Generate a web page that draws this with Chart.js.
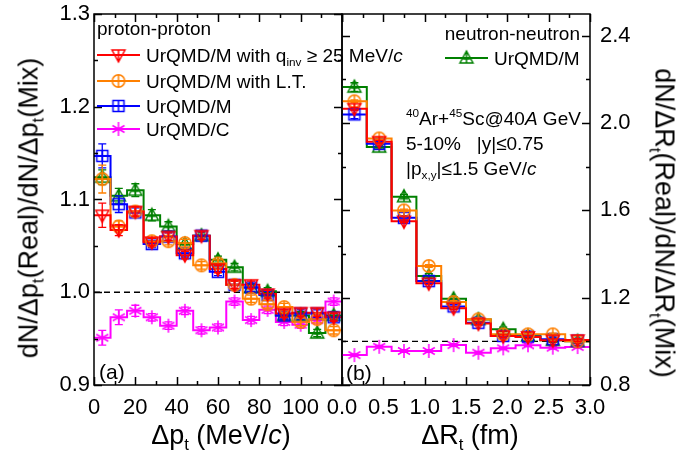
<!DOCTYPE html>
<html>
<head>
<meta charset="utf-8">
<script src="https://cdn.jsdelivr.net/npm/chart.js@4.4.1/dist/chart.umd.min.js"></script>
<style>
body { margin: 0; background: #fff; }
#wrap { position: relative; width: 697px; height: 455px; overflow: hidden; font-family: "Liberation Sans", Arial, sans-serif; color: #000; }
canvas { position: absolute; top: 0; }
.t { position: absolute; white-space: nowrap; line-height: 1; transform: translateY(-50%); }
.t sub, .t sup { font-size: 62%; line-height: 0; }
.leg { font-size: 19px; }
.ttl { font-size: 27px; }
</style>
</head>
<body>
<div id="wrap">
  <canvas id="ca" width="344" height="455" style="left:0"></canvas>
  <canvas id="cb" width="397" height="455" style="left:300px"></canvas>

  <div class="t leg" style="left:97px;top:28px">proton-proton</div>
  <div class="t leg" style="left:146px;top:55px">UrQMD/M with q<sub>inv</sub> &ge; 25 MeV/<i>c</i></div>
  <div class="t leg" style="left:146px;top:81px">UrQMD/M with L.T.</div>
  <div class="t leg" style="left:146px;top:106px">UrQMD/M</div>
  <div class="t leg" style="left:146px;top:129px">UrQMD/C</div>

  <div class="t leg" style="right:117px;top:33px">neutron-neutron</div>
  <div class="t leg" style="left:494px;top:58px">UrQMD/M</div>
  <div class="t leg" style="left:406px;top:118px"><sup>40</sup>Ar+<sup>45</sup>Sc@40<i>A</i> GeV</div>
  <div class="t leg" style="left:406px;top:143px">5-10% &nbsp; |y|&le;0.75</div>
  <div class="t leg" style="left:406px;top:168px">|p<sub>x,y</sub>|&le;1.5 GeV/<i>c</i></div>

  <div class="t" style="left:99px;top:371px;font-size:21px">(a)</div>
  <div class="t" style="left:346px;top:372px;font-size:21px">(b)</div>

  <div class="t ttl" style="left:221px;top:435px;transform:translate(-50%,-50%)">&Delta;p<sub>t</sub> (MeV/<i>c</i>)</div>
  <div class="t ttl" style="left:470px;top:435px;transform:translate(-50%,-50%)">&Delta;R<sub>t</sub> (fm)</div>
  <div class="t ttl" style="left:29px;top:208px;transform:translate(-50%,-50%) rotate(-90deg)">dN/&Delta;p<sub>t</sub>(Real)/dN/&Delta;p<sub>t</sub>(Mix)</div>
  <div class="t ttl" style="left:664px;top:223px;transform:translate(-50%,-50%) rotate(90deg)">dN/&Delta;R<sub>t</sub>(Real)/dN/&Delta;R<sub>t</sub>(Mix)</div>
</div>

<script>
// ---- data: panel (a), proton-proton vs delta p_t (bins of 8 MeV/c)
const ptCenters = [4, 12, 20, 28, 36, 44, 52, 60, 68, 76, 84, 92, 100, 108, 116]
const ptBinWidth = 8
const ppQinv = [1.083, 1.067, 1.087, 1.054, 1.060, 1.040, 1.061, 1.025, 1.008, 1.008, 0.998, 0.977, 0.978, 0.978, 0.973]
const ppQinvErr = [0.013, 0.006, 0.005, 0.004, 0.004, 0.004, 0.004, 0.004, 0.004, 0.004, 0.004, 0.004, 0.004, 0.004, 0.004]
const ppLT = [1.122, 1.071, 1.087, 1.055, 1.055, 1.053, 1.029, 1.031, 1.008, 0.993, 0.987, 0.984, 0.968, 0.971, 0.959]
const ppLTErr = [0.015, 0.006, 0.005, 0.004, 0.004, 0.004, 0.004, 0.004, 0.004, 0.004, 0.004, 0.004, 0.004, 0.004, 0.004]
const ppM = [1.147, 1.095, 1.086, 1.052, 1.060, 1.042, 1.061, 1.022, 1.008, 1.005, 0.997, 0.975, 0.977, 0.977, 0.973]
const ppMErr = [0.013, 0.009, 0.005, 0.004, 0.004, 0.004, 0.004, 0.004, 0.004, 0.004, 0.004, 0.004, 0.004, 0.004, 0.004]
const ppC = [0.951, 0.973, 0.980, 0.973, 0.964, 0.980, 0.959, 0.962, 0.990, 0.970, 0.981, 0.968, 0.965, 0.970, 0.990]
const ppCErr = [0.008, 0.008, 0.006, 0.004, 0.004, 0.004, 0.004, 0.004, 0.004, 0.004, 0.004, 0.004, 0.004, 0.004, 0.004]
const nnMpt = [1.124, 1.104, 1.110, 1.083, 1.071, 1.052, 1.061, 1.035, 1.027, 1.005, 1.001, 0.975, 0.975, 0.956, 0.975]
const nnMptErr = [0.008, 0.008, 0.007, 0.006, 0.005, 0.005, 0.004, 0.004, 0.004, 0.004, 0.004, 0.004, 0.004, 0.004, 0.004]

// ---- data: panel (b), vs delta R_t (bins of 0.3 fm)
const rtCenters = [0.15, 0.45, 0.75, 1.05, 1.35, 1.65, 1.95, 2.25, 2.55, 2.85]
const rtBinWidth = 0.3
const rtQinv = [2.066, 1.915, 1.550, 1.266, 1.152, 1.082, 1.024, 1.020, 1.005, 1.006]
const rtLT = [2.100, 1.930, 1.600, 1.345, 1.180, 1.101, 1.032, 1.032, 1.032, 1.000]
const rtM = [2.040, 1.905, 1.566, 1.276, 1.160, 1.085, 1.025, 1.022, 1.010, 1.003]
const rtC = [0.937, 0.975, 0.956, 0.956, 0.983, 0.948, 0.968, 0.982, 0.971, 0.974]
const rtNN = [2.165, 1.890, 1.663, 1.300, 1.195, 1.100, 1.055, 1.025, 1.005, 1.000]
const rtErr = [0.02, 0.01, 0.01, 0.01, 0.01, 0.01, 0.01, 0.01, 0.01, 0.01]

// ---- tick labels
const ptTicks = [0, 20, 40, 60, 80, 100, 120]
const ptMinor = [10, 30, 50, 70, 90, 110]
const yaTicks = [0.9, 1.0, 1.1, 1.2, 1.3]
const yaMinor = [0.95, 1.05, 1.15, 1.25]
const rtTicks = [0, 0.5, 1.0, 1.5, 2.0, 2.5, 3.0]
const rtMinor = [0.25, 0.75, 1.25, 1.75, 2.25, 2.75]
const ybTicks = [0.8, 1.2, 1.6, 2.0, 2.4]
const ybMinor = [1.0, 1.4, 1.8, 2.2]

const FONT = '"Liberation Sans", Arial, sans-serif'
const RED = '#ff0000', ORANGE = '#ff8000', BLUE = '#0000ff', MAG = '#ff00ff', GREEN = '#008000'

function marker(kind, color) {
    const s = 18, m = 9
    const c = document.createElement('canvas')
    c.width = s; c.height = s
    const g = c.getContext('2d')
    g.strokeStyle = color
    g.lineWidth = 1.5
    g.beginPath()
    if (kind === 'circle') {
        g.arc(m, m, 6.2, 0, 2 * Math.PI)
        g.moveTo(m - 6, m); g.lineTo(m + 6, m)
        g.moveTo(m, m - 6); g.lineTo(m, m + 6)
    } else if (kind === 'square') {
        g.rect(m - 5.5, m - 5.5, 11, 11)
        g.moveTo(m - 5.5, m); g.lineTo(m + 5.5, m)
        g.moveTo(m, m - 5.5); g.lineTo(m, m + 5.5)
    } else if (kind === 'up') {
        g.moveTo(m, m - 7); g.lineTo(m + 6.5, m + 5); g.lineTo(m - 6.5, m + 5); g.closePath()
        g.moveTo(m, m - 7); g.lineTo(m, m + 5)
        g.moveTo(m - 3.5, m + 1); g.lineTo(m + 3.5, m + 1)
    } else if (kind === 'down') {
        g.moveTo(m, m + 7); g.lineTo(m + 6.5, m - 5); g.lineTo(m - 6.5, m - 5); g.closePath()
        g.moveTo(m, m + 7); g.lineTo(m, m - 5)
    } else if (kind === 'star') {
        g.moveTo(m, m - 7); g.lineTo(m, m + 7)
        g.moveTo(m - 6, m - 3.5); g.lineTo(m + 6, m + 3.5)
        g.moveTo(m - 6, m + 3.5); g.lineTo(m + 6, m - 3.5)
    }
    g.stroke()
    return c
}

const mk = {
    red: marker('down', RED),
    orange: marker('circle', ORANGE),
    blue: marker('square', BLUE),
    mag: marker('star', MAG),
    green: marker('up', GREEN)
}

// histogram outline: left edge of each bin plus the right edge of the last
function steps(centers, width, vals) {
    const pts = centers.map((x, i) => ({ x: x - width / 2, y: vals[i] }))
    pts.push({ x: centers[centers.length - 1] + width / 2, y: vals[vals.length - 1] })
    return pts
}

function series(centers, width, vals, errs, color, img, layer) {
    return [
        {
            data: steps(centers, width, vals), showLine: true, stepped: 'before',
            borderColor: color, borderWidth: 2, pointRadius: 0, order: 10 + layer
        },
        {
            data: centers.map((x, i) => ({ x: x, y: vals[i] })), showLine: false,
            pointStyle: img, pointRadius: 7, err: errs, errColor: color, order: layer
        }
    ]
}

const deco = {
    id: 'deco',
    beforeDatasetDraw(chart, args) {
        const ds = chart.data.datasets[args.index]
        if (!ds.err) return
        const ctx = chart.ctx, ys = chart.scales.y
        ctx.save()
        ctx.strokeStyle = ds.errColor
        ctx.lineWidth = 1.3
        args.meta.data.forEach((p, i) => {
            const v = ds.data[i].y, e = ds.err[i]
            const y1 = ys.getPixelForValue(v + e), y2 = ys.getPixelForValue(v - e)
            ctx.beginPath()
            ctx.moveTo(p.x, y1); ctx.lineTo(p.x, y2)
            ctx.moveTo(p.x - 4, y1); ctx.lineTo(p.x + 4, y1)
            ctx.moveTo(p.x - 4, y2); ctx.lineTo(p.x + 4, y2)
            ctx.stroke()
        })
        ctx.restore()
    },
    beforeDatasetsDraw(chart) {
        const ctx = chart.ctx, a = chart.chartArea
        const y = chart.scales.y.getPixelForValue(1.0)
        ctx.save()
        ctx.strokeStyle = '#000'
        ctx.lineWidth = 1.4
        ctx.setLineDash([6, 4])
        ctx.beginPath()
        ctx.moveTo(a.left, y); ctx.lineTo(a.right, y)
        ctx.stroke()
        ctx.restore()
    },
    afterDraw(chart, args, opts) {
        const ctx = chart.ctx, a = chart.chartArea
        const xs = chart.scales.x, ys = chart.scales.y
        ctx.save()
        ctx.strokeStyle = '#000'
        ctx.lineWidth = 1.5
        ctx.strokeRect(a.left, a.top, a.right - a.left, a.bottom - a.top)
        ctx.beginPath()
        const tx = (vals, len) => vals.forEach(v => {
            const px = Math.round(xs.getPixelForValue(v)) + 0.5
            ctx.moveTo(px, a.bottom); ctx.lineTo(px, a.bottom - len)
            ctx.moveTo(px, a.top); ctx.lineTo(px, a.top + len)
        })
        const ty = (vals, len) => vals.forEach(v => {
            const py = Math.round(ys.getPixelForValue(v)) + 0.5
            ctx.moveTo(a.left, py); ctx.lineTo(a.left + len, py)
            ctx.moveTo(a.right, py); ctx.lineTo(a.right - len, py)
        })
        tx(opts.xMajor, 8); tx(opts.xMinor, 4)
        ty(opts.yMajor, 8); ty(opts.yMinor, 4)
        ctx.stroke()
        // legend samples
        ctx.lineWidth = 2
        opts.legend.forEach(l => {
            ctx.strokeStyle = l.color
            ctx.beginPath()
            ctx.moveTo(l.x0, l.y); ctx.lineTo(l.x1, l.y)
            ctx.stroke()
            ctx.drawImage(l.img, (l.x0 + l.x1) / 2 - l.img.width / 2, l.y - l.img.height / 2)
        })
        ctx.restore()
    }
}

// drop the label padding chart.js adds around scales so the plot box stays put
function noPad(s) {
    s.paddingTop = 0; s.paddingBottom = 0; s.paddingLeft = 0; s.paddingRight = 0
}

function axisX(min, max, ticks, fmt) {
    return {
        type: 'linear', min: min, max: max,
        afterBuildTicks: s => { s.ticks = ticks.map(v => ({ value: v })) },
        afterFit: s => { s.height = 70; noPad(s) },
        grid: { display: false, drawTicks: false },
        border: { display: false },
        ticks: { callback: fmt, color: '#000', font: { family: FONT, size: 22 }, padding: 10, maxRotation: 0, autoSkip: false }
    }
}

function axisY(min, max, ticks, pos, width, pad) {
    return {
        type: 'linear', min: min, max: max, position: pos,
        afterBuildTicks: s => { s.ticks = ticks.map(v => ({ value: v })) },
        afterFit: s => { s.width = width; noPad(s) },
        grid: { display: false, drawTicks: false },
        border: { display: false },
        ticks: { callback: v => v.toFixed(1), color: '#000', font: { family: FONT, size: 22 }, padding: pad, autoSkip: false }
    }
}

const common = {
    responsive: false,
    animation: false,
    devicePixelRatio: 1,
    events: [],
    plugins: { legend: { display: false }, tooltip: { enabled: false } }
}

new Chart(document.getElementById('ca'), {
    type: 'scatter',
    data: {
        datasets: [
            ...series(ptCenters, ptBinWidth, ppQinv, ppQinvErr, RED, mk.red, 0),
            ...series(ptCenters, ptBinWidth, ppLT, ppLTErr, ORANGE, mk.orange, 1),
            ...series(ptCenters, ptBinWidth, ppM, ppMErr, BLUE, mk.blue, 2),
            ...series(ptCenters, ptBinWidth, nnMpt, nnMptErr, GREEN, mk.green, 3),
            ...series(ptCenters, ptBinWidth, ppC, ppCErr, MAG, mk.mag, 4)
        ]
    },
    options: {
        ...common,
        layout: { autoPadding: false, padding: { left: 0, right: 2, top: 14, bottom: 0 } },
        scales: {
            x: axisX(0, 120, ptTicks, v => v === 120 ? '' : String(v)),
            y: axisY(0.9, 1.3, yaTicks, 'left', 94, 4)
        },
        plugins: {
            ...common.plugins,
            deco: {
                xMajor: ptTicks, xMinor: ptMinor, yMajor: yaTicks, yMinor: yaMinor,
                legend: [
                    { color: RED, img: mk.red, x0: 97, x1: 140, y: 55 },
                    { color: ORANGE, img: mk.orange, x0: 97, x1: 140, y: 81 },
                    { color: BLUE, img: mk.blue, x0: 97, x1: 140, y: 106 },
                    { color: MAG, img: mk.mag, x0: 97, x1: 140, y: 129 }
                ]
            }
        }
    },
    plugins: [deco]
})

const rtSmallErr = rtErr.map(() => 0.006)

new Chart(document.getElementById('cb'), {
    type: 'scatter',
    data: {
        datasets: [
            ...series(rtCenters, rtBinWidth, rtQinv, rtSmallErr, RED, mk.red, 0),
            ...series(rtCenters, rtBinWidth, rtLT, rtSmallErr, ORANGE, mk.orange, 1),
            ...series(rtCenters, rtBinWidth, rtM, rtErr, BLUE, mk.blue, 2),
            ...series(rtCenters, rtBinWidth, rtNN, rtErr, GREEN, mk.green, 3),
            ...series(rtCenters, rtBinWidth, rtC, rtSmallErr, MAG, mk.mag, 4)
        ]
    },
    options: {
        ...common,
        layout: { autoPadding: false, padding: { left: 42, right: 0, top: 14, bottom: 0 } },
        scales: {
            x: axisX(0, 3.0, rtTicks, v => v.toFixed(1)),
            y: axisY(0.8, 2.5, ybTicks, 'right', 107, 10)
        },
        plugins: {
            ...common.plugins,
            deco: {
                xMajor: rtTicks, xMinor: rtMinor, yMajor: ybTicks, yMinor: ybMinor,
                legend: [
                    { color: GREEN, img: mk.green, x0: 145, x1: 188, y: 58 }
                ]
            }
        }
    },
    plugins: [deco]
})
</script>
</body>
</html>
